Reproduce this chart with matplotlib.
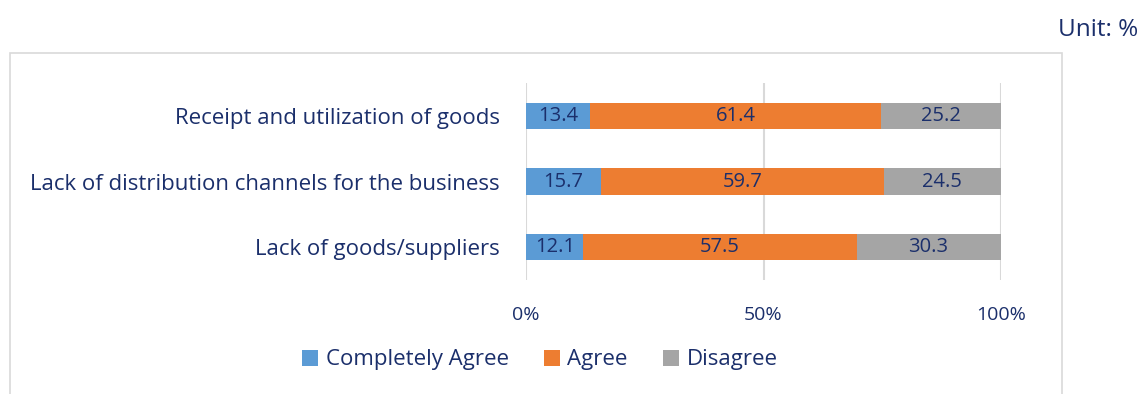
import matplotlib
matplotlib.use("Agg")
import matplotlib.pyplot as plt
from matplotlib.patches import Rectangle
import numpy as np

plt.rcParams['font.family'] = ['Open Sans', 'DejaVu Sans']

categories = ["Receipt and utilization of goods",
              "Lack of distribution channels for the business",
              "Lack of goods/suppliers"]
series_names = ["Completely Agree", "Agree", "Disagree"]
completely_agree = [13.4, 15.7, 12.1]
agree = [61.4, 59.7, 57.5]
disagree = [25.2, 24.5, 30.3]
tick_labels = ["0%", "50%", "100%"]

colors = ["#5B9BD5", "#ED7D31", "#A5A5A5"]
text_color = "#1B2F6B"

W, H = 1141, 394
fig = plt.figure(figsize=(W / 100, H / 100), dpi=100)

# outer chart frame (open at the bottom edge of the image)
fig.patches.append(Rectangle((10 / W, -0.1), (1062 - 10) / W, 1.1 - 53 / H,
                             transform=fig.transFigure, fill=False,
                             edgecolor="#D9D9D9", linewidth=1.2))

ax = fig.add_axes([526 / W, 1 - 280 / H, (1001 - 526) / W, (280 - 83) / H])

y = np.arange(len(categories))
left = np.zeros(len(categories))
for name, vals, col in zip(series_names, [completely_agree, agree, disagree], colors):
    vals = np.array(vals)
    bars = ax.barh(y, vals, left=left, height=0.4, color=col, label=name, zorder=3)
    for b, v in zip(bars, vals):
        ax.text(b.get_x() + b.get_width() / 2, b.get_y() + b.get_height() / 2,
                f"{v:.1f}", ha="center", va="center", color=text_color,
                fontsize=14.5, zorder=4)
    left += vals

ax.set_xlim(0, 100)
ax.set_ylim(len(categories) - 0.5, -0.5)
ax.set_xticks([0, 50, 100])
ax.set_xticklabels(tick_labels, color=text_color, fontsize=14)
ax.set_yticks(y)
ax.set_yticklabels(categories, color=text_color, fontsize=16)
for lbl in ax.get_yticklabels():
    lbl.set_y(lbl.get_position()[1])
ax.tick_params(axis="both", length=0)
ax.tick_params(axis="x", pad=19)
ax.tick_params(axis="y", pad=19)
ax.grid(axis="x", color="#D9D9D9", linewidth=1.5, zorder=0)
for s in ax.spines.values():
    s.set_visible(False)

handles, labels = ax.get_legend_handles_labels()
leg = fig.legend(handles, labels, loc="center", bbox_to_anchor=(540 / W, 1 - 360 / H),
                 ncol=3, frameon=False, fontsize=16, handlelength=0.7,
                 handleheight=0.7, handletextpad=0.35, columnspacing=1.6)
for t in leg.get_texts():
    t.set_color(text_color)

fig.text(1138 / W, 1 - 30 / H, "Unit: %", ha="right", va="center",
         color=text_color, fontsize=17.5)

fig.savefig("out.png", dpi=100)
